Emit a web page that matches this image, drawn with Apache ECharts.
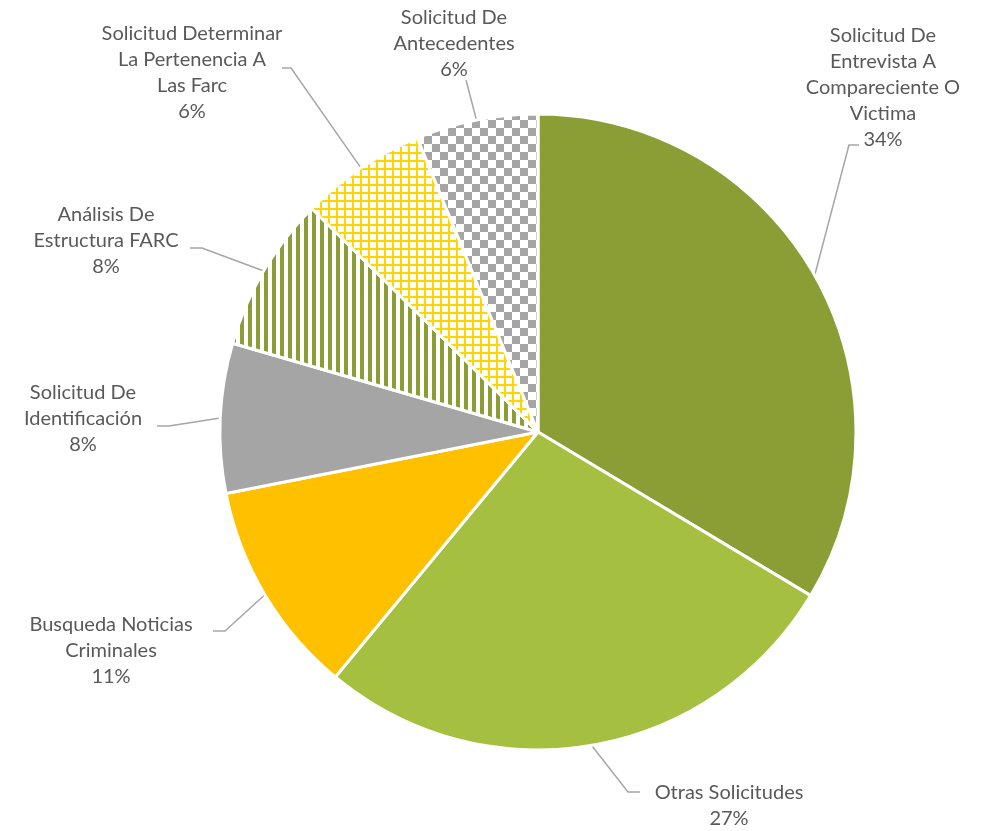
<!DOCTYPE html>
<html>
<head>
<meta charset="utf-8">
<script src="https://cdn.jsdelivr.net/npm/echarts@6/dist/echarts.min.js"></script>
<style>html,body{margin:0;padding:0;background:#fff}#c{width:985px;height:831px}</style>
</head>
<body>
<div id="c"></div>
<script>
// ---- data ----
const categories = [
  'Solicitud De Entrevista A Compareciente O Victima',
  'Otras Solicitudes',
  'Busqueda Noticias Criminales',
  'Solicitud De Identificación',
  'Análisis De Estructura FARC',
  'Solicitud Determinar La Pertenencia A Las Farc',
  'Solicitud De Antecedentes'
];
const values = [33.6, 27.4, 10.9, 7.6, 7.9, 6.4, 6.2];
const labelLines = [
  ['Solicitud De', 'Entrevista A', 'Compareciente O', 'Victima'],
  ['Otras Solicitudes'],
  ['Busqueda Noticias', 'Criminales'],
  ['Solicitud De', 'Identificación'],
  ['Análisis De', 'Estructura FARC'],
  ['Solicitud Determinar', 'La Pertenencia A', 'Las Farc'],
  ['Solicitud De', 'Antecedentes']
];

// ---- layout (label placement) ----
const labelPos = [
  {x: 883, y: 88, line: [[849,145],[859,145]]},
  {x: 729, y: 806, line: [[628,792],[640,792]]},
  {x: 111, y: 651, line: [[225,631],[213,631]]},
  {x: 83,  y: 419, line: [[169,426],[157,426]]},
  {x: 106, y: 241, line: [[202,248],[190,248]]},
  {x: 192, y: 73,  line: [[291,68],[282,68]]},
  {x: 454, y: 44,  line: [[466,80],[466,80]]}
];

// ---- patterns ----
function tile(w, h, draw) {
  const c = document.createElement('canvas');
  c.width = w; c.height = h;
  const g = c.getContext('2d');
  g.fillStyle = '#fff'; g.fillRect(0, 0, w, h);
  draw(g);
  return c;
}
const stripes = tile(8, 8, g => { g.fillStyle = '#8A9E35'; g.fillRect(0, 0, 4, 8); });
const cross = tile(8, 8, g => { g.fillStyle = '#FFD500'; g.fillRect(0, 0, 8, 2); g.fillRect(0, 0, 2, 8); });
const checker = tile(16, 16, g => { g.fillStyle = '#A5A5A5'; g.fillRect(0, 0, 8, 8); g.fillRect(8, 8, 8, 8); });

const colors = [
  '#8A9E35', '#A5BF40', '#FFC000', '#A5A5A5',
  {image: stripes, repeat: 'repeat'},
  {image: cross, repeat: 'repeat'},
  {image: checker, repeat: 'repeat'}
];

const total = values.reduce((a, b) => a + b, 0);
const data = categories.map((name, i) => ({
  name: name,
  value: values[i],
  itemStyle: {color: colors[i]}
}));

const chart = echarts.init(document.getElementById('c'));
chart.setOption({
  animation: false,
  series: [{
    type: 'pie',
    center: [538, 432],
    radius: 318,
    startAngle: 90,
    clockwise: true,
    data: data,
    itemStyle: {borderColor: '#fff', borderWidth: 3},
    emphasis: {disabled: true},
    label: {
      show: true,
      position: 'outside',
      fontFamily: 'Lato',
      fontSize: 20,
      lineHeight: 26,
      color: '#595959',
      align: 'center',
      overflow: 'none',
      edgeDistance: 0,
      formatter: p => labelLines[p.dataIndex].join('\n') + '\n' + Math.round(p.value / total * 100) + '%'
    },
    labelLine: {
      show: true,
      length: 20,
      length2: 10,
      lineStyle: {color: '#A6A6A6', width: 1.5}
    },
    labelLayout: function (params) {
      const i = params.dataIndex;
      const p = labelPos[i];
      const start = params.labelLinePoints ? params.labelLinePoints[0] : p.line[0];
      return {
        x: p.x,
        y: p.y,
        align: 'center',
        verticalAlign: 'middle',
        labelLinePoints: [start, p.line[0], p.line[1]]
      };
    }
  }]
});
</script>
</body>
</html>
